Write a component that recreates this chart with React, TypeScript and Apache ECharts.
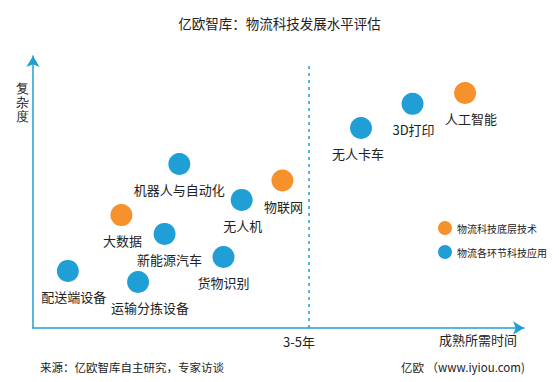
import React, { useEffect, useRef } from "react";
import * as echarts from "echarts";

const baseNames = ["人工智能", "物联网", "大数据"];
const baseX = [88.0, 50.8, 18.0];
const baseY = [86.4, 54.2, 41.5];

const appNames = ["3D打印", "无人卡车", "机器人与自动化", "无人机", "新能源汽车", "货物识别", "配送端设备", "运输分拣设备"];
const appX = [77.3, 66.8, 29.8, 42.5, 26.8, 38.8, 7.1, 21.4];
const appY = [82.4, 73.5, 60.3, 47.1, 34.6, 26.1, 21.0, 16.9];

const seriesNames = ["物流科技底层技术", "物流各环节科技应用"];
const thresholdX = 56.2;
const thresholdTop = 96.7;

const baseLabelDx = [6, 1, 1];
const appLabelDx = [1, -3, 0, 1, 5, 0, 6, 12];

const FONT = "'Noto Sans CJK SC', 'Noto Sans', sans-serif";
const ORANGE = "#f7912b";
const BLUE = "#1f9fd6";

function buildData(names: string[], xs: number[], ys: number[], dx: number[]) {
  return names.map((n, i) => ({
    name: n,
    value: [xs[i], ys[i]],
    label: { offset: [dx[i], 0] },
  }));
}

export default function App() {
  const ref = useRef<HTMLDivElement>(null);
  useEffect(() => {
    if (!ref.current) return;
    const chart = echarts.init(ref.current, null, { renderer: "svg" });
    const labelCfg = {
      show: true,
      position: "bottom",
      distance: 8,
      formatter: "{b}",
      fontSize: 13,
      color: "#222",
      fontFamily: FONT,
    };
    chart.setOption({
      animation: false,
      textStyle: { fontFamily: FONT },
      title: {
        text: "亿欧智库：物流科技发展水平评估",
        left: "center",
        top: 11,
        textStyle: { fontSize: 13.5, fontWeight: "normal", color: "#222", fontFamily: FONT },
      },
      legend: {
        left: 433,
        top: 216,
        orient: "vertical",
        icon: "circle",
        itemWidth: 14,
        itemHeight: 14,
        itemGap: 10,
        data: seriesNames,
        textStyle: { fontSize: 10, color: "#222", fontFamily: FONT },
      },
      grid: { left: 33, right: 35, top: 56, bottom: 54 },
      xAxis: {
        type: "value",
        min: 0,
        max: 100,
        axisLine: {
          show: true,
          symbol: ["none", "arrow"],
          symbolSize: [10, 11],
          lineStyle: { color: BLUE, width: 1.5 },
        },
        axisTick: { show: false },
        axisLabel: { show: false },
        splitLine: { show: false },
      },
      yAxis: {
        type: "value",
        min: 0,
        max: 100,
        axisLine: {
          show: true,
          symbol: ["none", "arrow"],
          symbolSize: [10, 11],
          lineStyle: { color: BLUE, width: 1.5 },
        },
        axisTick: { show: false },
        axisLabel: { show: false },
        splitLine: { show: false },
      },
      series: [
        {
          name: seriesNames[0],
          type: "scatter",
          symbolSize: 22,
          itemStyle: { color: ORANGE, opacity: 1 },
          label: labelCfg,
          data: buildData(baseNames, baseX, baseY, baseLabelDx),
        },
        {
          name: seriesNames[1],
          type: "scatter",
          symbolSize: 22,
          itemStyle: { color: BLUE, opacity: 1 },
          label: labelCfg,
          data: buildData(appNames, appX, appY, appLabelDx),
          markLine: {
            silent: true,
            symbol: "none",
            label: { show: false },
            lineStyle: { color: BLUE, type: [3, 4], width: 1.5, opacity: 1 },
            emphasis: { disabled: true },
            data: [[{ coord: [thresholdX, 0] }, { coord: [thresholdX, thresholdTop] }]],
          },
        },
      ],
      graphic: [
        {
          type: "text",
          left: 16,
          top: 81,
          style: { text: "复\n杂\n度", fontSize: 13, lineHeight: 14, fill: "#222", font: `13px ${FONT}` },
        },
        {
          type: "text",
          x: 299,
          y: 341,
          style: { text: "3-5年", fontSize: 13, fill: "#222", fontFamily: FONT, align: "center", verticalAlign: "middle" },
        },
        {
          type: "text",
          x: 478,
          y: 339,
          style: { text: "成熟所需时间", fontSize: 13, fill: "#222", fontFamily: FONT, align: "center", verticalAlign: "middle" },
        },
        {
          type: "text",
          x: 40,
          y: 367,
          style: { text: "来源：亿欧智库自主研究，专家访谈", fontSize: 11.5, fill: "#222", fontFamily: FONT, verticalAlign: "middle" },
        },
        {
          type: "text",
          x: 401,
          y: 367,
          style: { text: "亿欧 （www.iyiou.com)", fontSize: 11.5, fill: "#222", fontFamily: FONT, verticalAlign: "middle" },
        },
      ],
    });
    return () => chart.dispose();
  }, []);
  return <div ref={ref} style={{ width: 559, height: 382, position: "absolute", left: 0, top: 0 }} />;
}
